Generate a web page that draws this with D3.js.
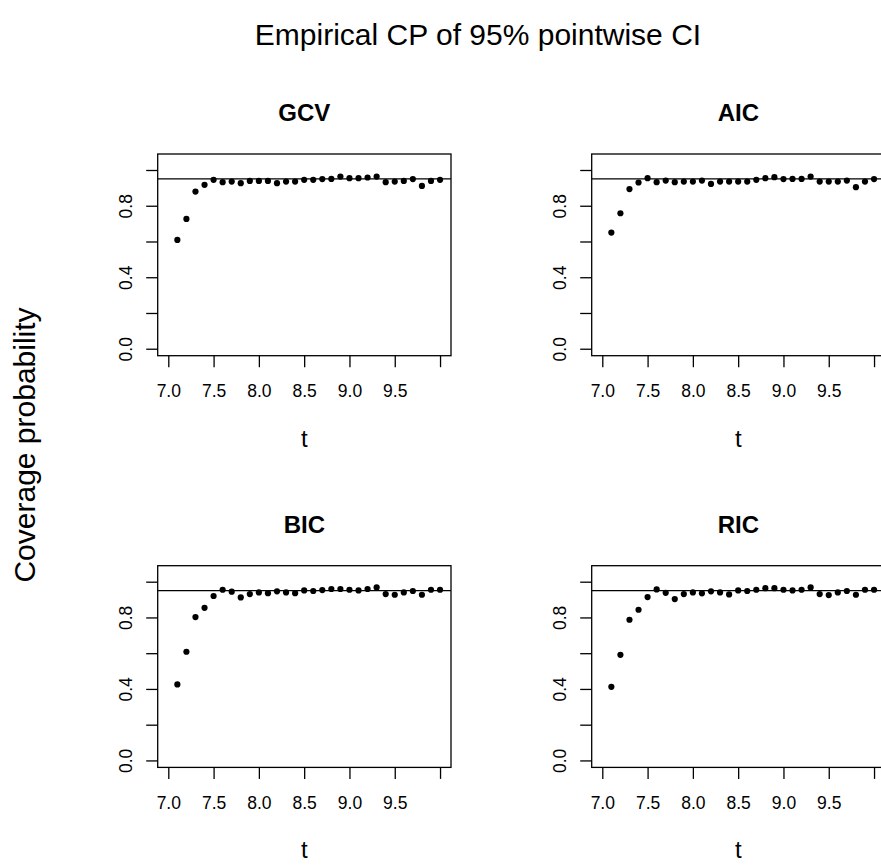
<!DOCTYPE html>
<html>
<head>
<meta charset="utf-8">
<script src="https://cdn.jsdelivr.net/npm/d3@7/dist/d3.min.js"></script>
<style>
  html, body { margin: 0; padding: 0; background: #fff; }
  svg { display: block; }
  text { font-family: "Liberation Sans", Arial, Helvetica, sans-serif; fill: #000; }
</style>
</head>
<body>
<svg id="chart" width="881" height="865"></svg>
<script>
// ---------------- data ----------------
const tValues = [7.1, 7.2, 7.3, 7.4, 7.5, 7.6, 7.7, 7.8, 7.9, 8.0,
                 8.1, 8.2, 8.3, 8.4, 8.5, 8.6, 8.7, 8.8, 8.9, 9.0,
                 9.1, 9.2, 9.3, 9.4, 9.5, 9.6, 9.7, 9.8, 9.9, 10.0];

const gcvCP = [0.609, 0.726, 0.879, 0.917, 0.945, 0.932, 0.935, 0.926, 0.939, 0.939,
               0.939, 0.926, 0.935, 0.935, 0.945, 0.945, 0.949, 0.950, 0.963, 0.954,
               0.954, 0.958, 0.963, 0.932, 0.935, 0.939, 0.949, 0.911, 0.939, 0.945];

const aicCP = [0.650, 0.758, 0.893, 0.930, 0.954, 0.932, 0.941, 0.932, 0.935, 0.935,
               0.941, 0.922, 0.935, 0.935, 0.935, 0.935, 0.945, 0.954, 0.960, 0.949,
               0.950, 0.950, 0.963, 0.935, 0.935, 0.935, 0.941, 0.904, 0.935, 0.949];

const bicCP = [0.425, 0.608, 0.802, 0.854, 0.920, 0.955, 0.944, 0.912, 0.931, 0.940,
               0.936, 0.946, 0.940, 0.936, 0.951, 0.948, 0.953, 0.959, 0.959, 0.955,
               0.951, 0.959, 0.968, 0.931, 0.927, 0.940, 0.948, 0.927, 0.955, 0.955];

const ricCP = [0.412, 0.591, 0.787, 0.843, 0.914, 0.957, 0.938, 0.903, 0.931, 0.940,
               0.935, 0.946, 0.940, 0.929, 0.951, 0.948, 0.955, 0.964, 0.964, 0.955,
               0.951, 0.955, 0.968, 0.931, 0.925, 0.940, 0.948, 0.927, 0.955, 0.955];

const panelTitles = ["GCV", "AIC", "BIC", "RIC"];
const panelSeries = [gcvCP, aicCP, bicCP, ricCP];
const nominalLevel = 0.95;

const xTicks = [7.0, 7.5, 8.0, 8.5, 9.0, 9.5, 10.0];
const xTickLabels = ["7.0", "7.5", "8.0", "8.5", "9.0", "9.5", ""];
const yTicks = [0.0, 0.2, 0.4, 0.6, 0.8, 1.0];
const yTickLabels = ["0.0", "", "0.4", "", "0.8", ""];

const mainTitle = "Empirical CP of 95% pointwise CI";
const xLabel = "t";
const yLabel = "Coverage probability";

// ---------------- layout ----------------
const svg = d3.select("#chart");
const W = 881, H = 865;
const boxW = 293.3, boxH = 201.7;
const box0 = { x: 157.7, y: 154 };
const colStep = 434, rowStep = 411.7;
const FONT_TICK = 17.5, FONT_LAB = 24, FONT_MAIN = 24, FONT_OUTER = 30;
const LW = 1.3;

const x = d3.scaleLinear().domain([6.883, 10.121]).range([0, boxW]);
const y = d3.scaleLinear().domain([-0.039, 1.0895]).range([boxH, 0]);

svg.append("rect").attr("width", W).attr("height", H).attr("fill", "#fff");

panelTitles.forEach((title, i) => {
  const col = i % 2, row = Math.floor(i / 2);
  const g = svg.append("g")
    .attr("transform", `translate(${box0.x + col * colStep},${box0.y + row * rowStep})`);
  const data = panelSeries[i];

  // x axis
  const xAxis = d3.axisBottom(x).tickValues(xTicks)
    .tickFormat((d, k) => xTickLabels[k]).tickSizeInner(11.5).tickSizeOuter(0);
  const gx = g.append("g").attr("transform", `translate(0,${boxH})`).call(xAxis);
  gx.select(".domain").remove();
  gx.selectAll(".tick line").attr("stroke", "#000").attr("stroke-width", LW);
  gx.selectAll(".tick text").attr("dy", null).attr("y", 41.6)
    .style("font-size", FONT_TICK + "px").style("font-family", "Liberation Sans, Arial, sans-serif");

  // y axis
  const yAxis = d3.axisLeft(y).tickValues(yTicks)
    .tickFormat((d, k) => yTickLabels[k]).tickSizeInner(11.5).tickSizeOuter(0);
  const gy = g.append("g").call(yAxis);
  gy.select(".domain").remove();
  gy.selectAll(".tick line").attr("stroke", "#000").attr("stroke-width", LW);
  gy.selectAll(".tick text").attr("x", null).attr("dy", null).attr("y", null)
    .attr("text-anchor", "middle")
    .attr("transform", "translate(-26,0) rotate(-90)")
    .style("font-size", FONT_TICK + "px").style("font-family", "Liberation Sans, Arial, sans-serif");

  // reference line at nominal level
  g.append("line")
    .attr("x1", 0).attr("x2", boxW)
    .attr("y1", y(nominalLevel)).attr("y2", y(nominalLevel))
    .attr("stroke", "#000").attr("stroke-width", LW);

  // points
  g.selectAll("circle.pt").data(data).join("circle")
    .attr("class", "pt")
    .attr("cx", (d, k) => x(tValues[k]))
    .attr("cy", d => y(d))
    .attr("r", 3.1)
    .attr("fill", "#000");

  // box
  g.append("rect").attr("x", 0).attr("y", 0).attr("width", boxW).attr("height", boxH)
    .attr("fill", "none").attr("stroke", "#000").attr("stroke-width", LW);

  // panel title
  g.append("text").attr("x", boxW / 2).attr("y", -33)
    .attr("text-anchor", "middle").style("font-size", FONT_MAIN + "px").style("font-weight", "bold")
    .text(title);

  // x label
  g.append("text").attr("x", boxW / 2).attr("y", boxH + 91)
    .attr("text-anchor", "middle").style("font-size", FONT_LAB + "px")
    .text(xLabel);
});

// outer title
svg.append("text").attr("x", 478).attr("y", 45)
  .attr("text-anchor", "middle").style("font-size", FONT_OUTER + "px")
  .text(mainTitle);

// outer y label
svg.append("text").attr("transform", "translate(35,445) rotate(-90)")
  .attr("text-anchor", "middle").style("font-size", FONT_OUTER + "px")
  .text(yLabel);
</script>
</body>
</html>
